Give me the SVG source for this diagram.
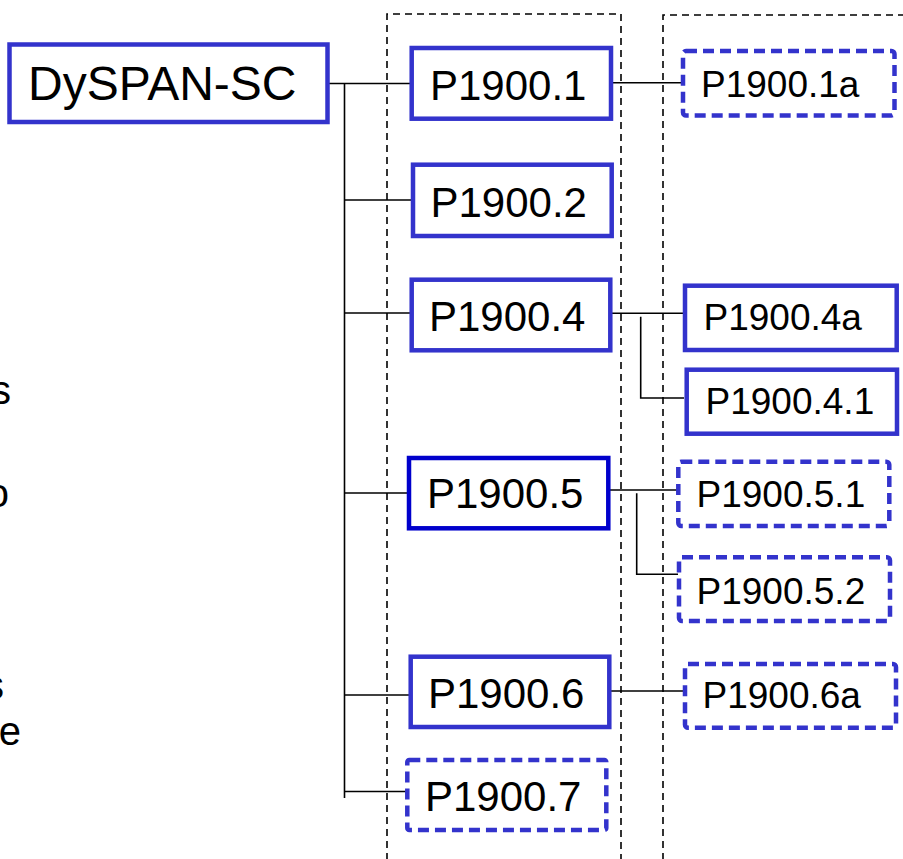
<svg xmlns="http://www.w3.org/2000/svg" width="903" height="859" viewBox="0 0 903 859">
<style>
text{font-family:"Liberation Sans",Arial,sans-serif;fill:#000}
.big{font-size:48px}
.mid{font-size:42px}
.sm{font-size:37px}
.frag{font-size:40px}
.solid{fill:#fff;stroke:#3333CC;stroke-width:4.5}
.dark{fill:#fff;stroke:#0000CC;stroke-width:4.5}
.dash{fill:#fff;stroke:#3333CC;stroke-width:4.5;stroke-dasharray:11 6}
.col{fill:none;stroke:#000;stroke-width:1.6;stroke-dasharray:7 5}
.ln{fill:none;stroke:#000;stroke-width:1.6}
</style>
<rect width="903" height="859" fill="#fff"/>
<g id="columns">
<path class="col" d="M387,860 V14 H621 V860"/>
<path class="col" d="M663,860 V15 H910"/>
</g>
<g id="fragments">
<text class="frag" x="11" y="404" text-anchor="end">s</text>
<text class="frag" x="9" y="507" text-anchor="end">o</text>
<text class="frag" x="4" y="699" text-anchor="end">s</text>
<text class="frag" x="21" y="745" text-anchor="end">e</text>
</g>
<g id="connectors">
<path class="ln" d="M328,83.5 H412"/>
<path class="ln" d="M344.5,83.5 V798"/>
<path class="ln" d="M344.5,200 H413"/>
<path class="ln" d="M344.5,313 H414"/>
<path class="ln" d="M344.5,493 H412"/>
<path class="ln" d="M344.5,695 H411"/>
<path class="ln" d="M344.5,791.5 H411"/>
<path class="ln" d="M611,82.7 H682"/>
<path class="ln" d="M612,313.3 H683"/>
<path class="ln" d="M640.7,316.7 V398 H684"/>
<path class="ln" d="M608,490 H677"/>
<path class="ln" d="M636.7,493.3 V574.3 H678"/>
<path class="ln" d="M611,691 H683"/>
</g>
<g id="DySPAN-SC">
<rect class="solid" x="9.5" y="44.5" width="318" height="77.5"/>
<text class="big" x="28" y="100">DySPAN-SC</text>
</g>
<g id="P1900.1">
<rect class="solid" x="411.7" y="48" width="199.3" height="70.7"/>
<text class="mid" x="430" y="100">P1900.1</text>
</g>
<g id="P1900.2">
<rect class="solid" x="413" y="164.7" width="198.7" height="71.3"/>
<text class="mid" x="430.5" y="216.7">P1900.2</text>
</g>
<g id="P1900.4">
<rect class="solid" x="411.7" y="279.7" width="198.6" height="70.6"/>
<text class="mid" x="429" y="330.7">P1900.4</text>
</g>
<g id="P1900.5">
<rect class="dark" x="409" y="458" width="199.3" height="70.3"/>
<text class="mid" x="427" y="508.3">P1900.5</text>
</g>
<g id="P1900.6">
<rect class="solid" x="410.7" y="656.7" width="198.6" height="70.3"/>
<text class="mid" x="428" y="708.3">P1900.6</text>
</g>
<g id="P1900.7">
<rect class="dash" x="407.3" y="760" width="199" height="70" rx="2"/>
<text class="mid" x="425" y="811">P1900.7</text>
</g>
<g id="P1900.1a">
<rect class="dash" x="683" y="51" width="211.5" height="64.5" rx="3"/>
<text class="sm" x="701" y="96.7">P1900.1a</text>
</g>
<g id="P1900.4a">
<rect class="solid" x="685" y="285.7" width="211.7" height="64.3"/>
<text class="sm" x="703.5" y="330">P1900.4a</text>
</g>
<g id="P1900.4.1">
<rect class="solid" x="686.7" y="369.7" width="210.3" height="64"/>
<text class="sm" x="705.5" y="414.3">P1900.4.1</text>
</g>
<g id="P1900.5.1">
<rect class="dash" x="678.3" y="461.7" width="211" height="64.3" rx="3"/>
<text class="sm" x="696.5" y="506.7">P1900.5.1</text>
</g>
<g id="P1900.5.2">
<rect class="dash" x="679" y="557.3" width="211" height="63.7" rx="3"/>
<text class="sm" x="696.5" y="604.3">P1900.5.2</text>
</g>
<g id="P1900.6a">
<rect class="dash" x="685" y="664" width="211" height="63.7" rx="3"/>
<text class="sm" x="702.5" y="708.3">P1900.6a</text>
</g>
</svg>
